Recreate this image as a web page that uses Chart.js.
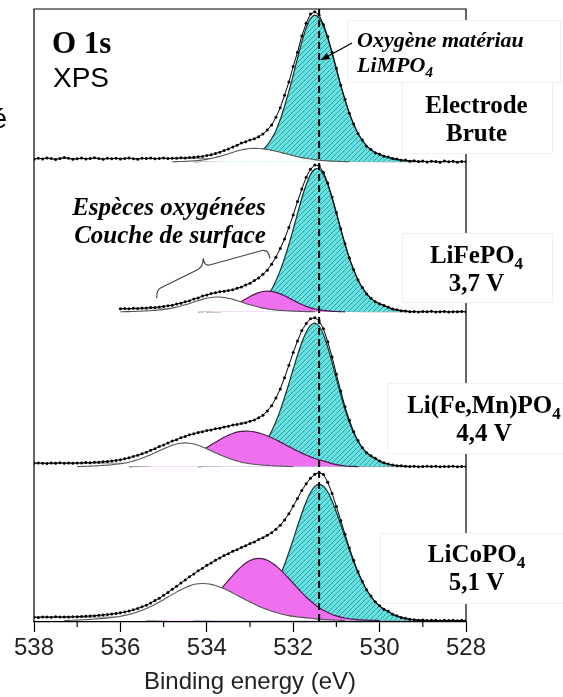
<!DOCTYPE html>
<html lang="fr">
<head>
<meta charset="utf-8">
<title>O 1s XPS</title>
<script src="https://cdn.jsdelivr.net/npm/chart.js@4.4.1/dist/chart.umd.min.js"></script>
<style>
  html, body { margin: 0; background: #fff; }
  canvas { display: block; }
</style>
</head>
<body>
<canvas id="xps" width="563" height="697"></canvas>
<script>
// binding energy grid (eV), one point every 0.1 eV
const energy = [
  538.0, 537.9, 537.8, 537.7, 537.6, 537.5, 537.4, 537.3, 537.2, 537.1,
  537.0, 536.9, 536.8, 536.7, 536.6, 536.5, 536.4, 536.3, 536.2, 536.1,
  536.0, 535.9, 535.8, 535.7, 535.6, 535.5, 535.4, 535.3, 535.2, 535.1,
  535.0, 534.9, 534.8, 534.7, 534.6, 534.5, 534.4, 534.3, 534.2, 534.1,
  534.0, 533.9, 533.8, 533.7, 533.6, 533.5, 533.4, 533.3, 533.2, 533.1,
  533.0, 532.9, 532.8, 532.7, 532.6, 532.5, 532.4, 532.3, 532.2, 532.1,
  532.0, 531.9, 531.8, 531.7, 531.6, 531.5, 531.4, 531.3, 531.2, 531.1,
  531.0, 530.9, 530.8, 530.7, 530.6, 530.5, 530.4, 530.3, 530.2, 530.1,
  530.0, 529.9, 529.8, 529.7, 529.6, 529.5, 529.4, 529.3, 529.2, 529.1,
  529.0, 528.9, 528.8, 528.7, 528.6, 528.5, 528.4, 528.3, 528.2, 528.1,
  528.0
];

// measured spectra (normalised, lattice O peak ~ 100)
const dataBrute = [
  1.6, 2.4, 1.9, 2.6, 2.1, 1.5, 2.2, 2.8, 2.3, 1.7,
  2.0, 2.5, 1.8, 2.2, 2.7, 2.1, 1.6, 2.3, 2.0, 2.4,
  1.9, 2.2, 2.6, 2.0, 1.7, 2.3, 2.1, 2.5, 2.0, 2.2,
  2.6, 2.1, 2.4, 2.3, 2.7, 2.5, 2.9, 3.0, 3.3, 3.6,
  4.2, 4.7, 5.6, 6.4, 7.6, 8.6, 10.0, 11.1, 12.6, 13.5,
  14.7, 15.5, 16.9, 18.7, 21.4, 24.8, 30.0, 36.4, 45.0, 53.8,
  64.3, 74.0, 85.0, 93.5, 99.8, 101.3, 99.1, 92.8, 84.6, 73.9,
  63.2, 51.8, 42.2, 32.7, 25.5, 19.0, 14.7, 10.5, 8.3, 6.0,
  5.1, 3.7, 3.2, 2.1, 1.9, 1.0, 1.1, 0.4, 0.7, 0.1,
  0.5, -0.2, 0.4, 0.1, -0.3, 0.5, 0.0, 0.3, -0.4, 0.2,
  0.1
];
// LiFePO4 is recorded from 536.0 eV only
const dataLFP = [
  2.0, 2.2, 2.0, 2.4, 2.3, 2.5, 2.6, 2.9, 2.9, 3.3,
  3.6, 4.1, 4.4, 5.2, 5.8, 6.8, 7.5, 8.7, 9.4, 10.6,
  11.3, 12.3, 12.9, 13.6, 13.9, 14.4, 14.9, 15.9, 16.7, 18.1,
  19.3, 21.1, 22.9, 25.3, 28.1, 32.2, 36.9, 42.8, 49.2, 57.0,
  65.4, 74.5, 83.0, 90.9, 96.4, 99.2, 98.7, 94.2, 87.1, 77.5,
  67.1, 56.1, 45.9, 36.3, 28.4, 21.5, 16.4, 12.1, 9.2, 6.8,
  5.5, 4.2, 3.1, 1.9, 1.4, 0.7, 0.5, 0.1, 0.2, -0.1,
  0.2, 0.0, 0.3, -0.1, 0.1, 0.2, -0.2, 0.1, 0.0, 0.2,
  0.0
];
const dataLFMP = [
  2.2, 2.5, 2.3, 2.1, 2.4, 2.3, 2.6, 2.2, 2.4, 2.3,
  2.5, 2.4, 2.7, 2.6, 2.9, 3.0, 3.3, 3.5, 3.8, 4.2,
  4.7, 5.3, 6.0, 6.9, 7.6, 8.7, 9.7, 11.0, 12.1, 13.5,
  14.6, 16.0, 17.3, 18.2, 19.5, 20.4, 21.5, 22.2, 23.1, 23.6,
  24.4, 24.8, 25.6, 26.0, 26.8, 27.2, 28.1, 28.4, 29.2, 29.7,
  30.7, 31.5, 33.0, 34.7, 37.6, 41.2, 46.4, 52.4, 60.1, 68.4,
  77.1, 84.9, 91.9, 96.7, 99.9, 100.6, 98.5, 93.1, 84.4, 74.1,
  62.4, 51.1, 40.4, 31.4, 23.5, 17.6, 12.7, 9.4, 7.3, 5.6,
  3.8, 2.6, 1.7, 1.1, 0.6, 0.5, 0.2, 0.1, 0.2, -0.1,
  0.1, 0.2, 0.0, 0.2, -0.1, 0.1, 0.0, 0.2, -0.1, 0.1,
  0.0
];
const dataLCP = [
  2.3, 2.1, 2.4, 2.3, 2.2, 2.5, 2.3, 2.4, 2.4, 2.5,
  2.6, 2.8, 2.9, 3.1, 3.3, 3.5, 3.8, 4.0, 4.4, 4.7,
  5.2, 5.8, 6.4, 7.3, 8.1, 9.3, 10.4, 11.8, 13.5, 15.0,
  17.0, 18.9, 21.1, 23.1, 25.4, 27.4, 29.6, 31.4, 33.6, 35.3,
  37.3, 38.9, 40.8, 42.2, 43.9, 45.2, 46.8, 47.9, 49.4, 50.5,
  52.0, 53.1, 54.7, 55.9, 57.7, 59.3, 61.7, 64.3, 68.0, 72.1,
  77.3, 82.5, 87.9, 92.4, 96.1, 98.9, 100.0, 98.7, 93.4, 85.9,
  77.0, 67.6, 58.3, 49.0, 40.7, 32.9, 26.6, 20.8, 16.5, 12.6,
  9.9, 7.6, 6.2, 4.3, 3.2, 2.0, 1.5, 0.8, 0.6, 0.2,
  0.3, 0.0, 0.2, 0.1, -0.1, 0.2, 0.0, 0.1, -0.1, 0.1,
  0.0
];

// fitted components: [first energy, intensities every 0.1 eV towards lower BE]
// lattice oxygen of LiMPO4
const cyanBrute = [534.3, [
  0, 0.1, 0.2, 0.3, 0.4, 0.6, 0.8, 1.0, 1.3, 1.6,
  2.0, 2.6, 3.1, 3.8, 4.8, 6.1, 8.2, 11.2, 15.5, 21.0,
  28.5, 37.5, 47.5, 58.5, 70.0, 81.0, 90.4, 96.8, 99.0, 97.0,
  91.5, 83.2, 73.2, 62.3, 51.5, 41.6, 32.7, 25.2, 19.1, 14.4,
  10.7, 8.1, 6.2, 4.9, 3.9, 2.9, 2.1, 1.5, 1.0, 0.6,
  0.35, 0.2, 0.1, 0]];
const cyanLFP = [534.0, [
  0, 0.05, 0.1, 0.15, 0.25, 0.4, 0.6, 0.9, 1.3, 1.8,
  2.5, 3.5, 5.0, 7.2, 10.5, 15.0, 21.0, 28.0, 36.2, 45.5,
  55.8, 66.4, 76.7, 85.8, 92.7, 96.5, 96.5, 92.7, 85.8, 76.7,
  66.4, 55.8, 45.5, 36.2, 28.2, 21.5, 16.2, 12.2, 9.1, 6.9,
  5.4, 4.3, 3.0, 2.0, 1.3, 0.8, 0.4, 0.2, 0]];
const cyanLFMP = [534.2, [
  0, 0.1, 0.2, 0.3, 0.5, 0.7, 1.0, 1.3, 1.8, 2.4,
  3.2, 4.2, 5.6, 7.5, 10.0, 13.5, 18.0, 23.9, 30.4, 38.0,
  46.7, 56.1, 65.8, 75.3, 83.9, 90.8, 95.4, 97.0, 95.0, 89.2,
  80.6, 70.3, 59.3, 48.5, 38.6, 30.0, 22.7, 17.0, 12.6, 9.4,
  7.1, 5.4, 3.6, 2.5, 1.6, 1.0, 0.6, 0.3, 0.1, 0]];
const cyanLCP = [534.3, [
  0, 0.1, 0.2, 0.3, 0.5, 0.7, 1.0, 1.3, 1.8, 2.3,
  2.9, 3.7, 4.5, 5.5, 7.0, 8.9, 11.5, 14.8, 19.1, 24.3,
  30.6, 37.9, 46.0, 54.7, 63.7, 72.3, 80.2, 86.5, 90.6, 92.0,
  90.7, 86.8, 80.8, 73.2, 64.9, 56.2, 47.7, 39.6, 32.3, 26.0,
  20.6, 16.2, 12.6, 9.8, 7.7, 6.1, 4.3, 3.0, 2.0, 1.3,
  0.8, 0.4, 0.2, 0.1, 0]];

// surface species
const magentaLFP = [534.2, [
  0, 0.15, 0.3, 0.5, 0.9, 1.4, 2.0, 2.9, 4.1, 5.5,
  7.0, 8.7, 10.3, 11.8, 13.0, 13.7, 14.0, 13.8, 13.1, 12.1,
  10.8, 9.3, 7.8, 6.3, 4.9, 3.7, 2.7, 1.9, 1.3, 0.9,
  0.6, 0.35, 0.2, 0.1, 0]];
const magentaLFMP = [535.8, [
  0, 0.1, 0.2, 0.3, 0.4, 0.6, 0.8, 1.1, 1.5, 2.0,
  2.6, 3.4, 4.3, 5.3, 6.6, 7.9, 9.5, 11.1, 12.9, 14.7,
  16.5, 18.2, 19.8, 21.2, 22.4, 23.3, 23.8, 24.0, 23.9, 23.5,
  22.8, 21.9, 20.8, 19.5, 18.1, 16.6, 15.1, 13.5, 12.0, 10.5,
  9.1, 7.8, 6.6, 5.5, 4.6, 3.8, 3.0, 2.0, 1.3, 0.8,
  0.4, 0.2, 0.1, 0]];
const magentaLCP = [535.4, [
  0, 0.1, 0.2, 0.35, 0.5, 0.8, 1.2, 1.7, 2.3, 3.2,
  4.3, 5.6, 7.3, 9.3, 11.6, 14.2, 17.2, 20.3, 23.7, 27.1,
  30.4, 33.6, 36.4, 38.8, 40.5, 41.6, 42.0, 41.7, 40.7, 39.1,
  37.0, 34.4, 31.5, 28.4, 25.2, 22.0, 18.9, 15.9, 13.3, 10.8,
  8.7, 6.9, 5.4, 4.1, 3.1, 2.3, 1.7, 1.2, 0.9, 0.6,
  0.4, 0.25, 0.15, 0.1, 0]];

const whiteBrute = [534.8, [
  0, 0.1, 0.15, 0.25, 0.4, 0.6, 0.8, 1.2, 1.6, 2.2,
  2.9, 3.6, 4.5, 5.4, 6.3, 7.2, 7.9, 8.5, 8.9, 9.0,
  8.9, 8.7, 8.3, 7.7, 7.1, 6.4, 5.6, 4.9, 4.1, 3.4,
  2.8, 2.3, 1.8, 1.4, 1.0, 0.8, 0.6, 0.4, 0.3, 0.2,
  0.1, 0]];
const whiteLFP = [536.0, [
  0, 0.1, 0.15, 0.25, 0.35, 0.45, 0.6, 0.75, 0.95, 1.2,
  1.6, 2.0, 2.5, 3.2, 3.9, 4.7, 5.6, 6.6, 7.5, 8.4,
  9.1, 9.7, 10.0, 10.0, 9.7, 9.1, 8.4, 7.5, 6.6, 5.6,
  4.7, 3.9, 3.2, 2.5, 2.0, 1.6, 1.2, 0.95, 0.75, 0.6,
  0.45, 0.35, 0.25, 0.15, 0.1, 0]];
const whiteLFMP = [537.0, [
  0, 0.1, 0.2, 0.3, 0.45, 0.6, 0.8, 1.0, 1.25, 1.55,
  1.9, 2.4, 3.0, 3.8, 4.6, 5.6, 6.8, 8.0, 9.3, 10.7,
  12.0, 13.3, 14.4, 15.3, 15.8, 16.0, 15.8, 15.3, 14.4, 13.3,
  12.0, 10.7, 9.3, 8.0, 6.8, 5.6, 4.6, 3.8, 3.0, 2.4,
  1.9, 1.55, 1.25, 1.0, 0.8, 0.6, 0.45, 0.3, 0.2, 0.1,
  0]];
const whiteLCP = [537.3, [
  0, 0.1, 0.2, 0.3, 0.45, 0.6, 0.8, 1.0, 1.2, 1.4,
  1.7, 2.0, 2.4, 2.9, 3.5, 4.1, 4.9, 5.9, 6.9, 8.1,
  9.5, 10.9, 12.5, 14.1, 15.9, 17.5, 19.2, 20.8, 22.2, 23.4,
  24.3, 24.8, 25.0, 24.8, 24.4, 23.6, 22.6, 21.4, 20.1, 18.6,
  17.1, 15.5, 14.0, 12.5, 11.1, 9.7, 8.5, 7.4, 6.3, 5.4,
  4.6, 3.9, 3.3, 2.8, 2.4, 2.1, 1.8, 1.5, 1.2, 0.9,
  0.7, 0.5, 0.35, 0.2, 0.1, 0]];

// Shirley background knots
const shirleyEV = [534, 533, 532.5, 532, 531.5, 531, 530.5, 530];
const shirleyBrute = [2.2, 2.1, 1.9, 1.55, 1.0, 0.45, 0.1, 0];
const shirleyLFP = [2.0, 1.85, 1.7, 1.4, 0.9, 0.4, 0.1, 0];
const shirleyLFMP = [2.3, 2.15, 1.95, 1.6, 1.05, 0.45, 0.1, 0];
const shirleyLCP = [2.3, 2.15, 1.95, 1.6, 1.05, 0.45, 0.1, 0];

const names = [['Electrode', 'Brute'], ['LiFePO_4', '3,7 V'], ['Li(Fe,Mn)PO_4', '4,4 V'], ['LiCoPO_4', '5,1 V']];
const offsets = [310, 208.6, 104, 0];   // vertical shift of each spectrum
const latticeEV = 531.4;                 // lattice O 1s position

const spectra = [
  { data: dataBrute, from: 538.0, cyan: cyanBrute, magenta: null, white: whiteBrute, bg: shirleyBrute },
  { data: dataLFP, from: 536.0, cyan: cyanLFP, magenta: magentaLFP, white: whiteLFP, bg: shirleyLFP },
  { data: dataLFMP, from: 538.0, cyan: cyanLFMP, magenta: magentaLFMP, white: whiteLFMP, bg: shirleyLFMP },
  { data: dataLCP, from: 538.0, cyan: cyanLCP, magenta: magentaLCP, white: whiteLCP, bg: shirleyLCP }
];

// cyan with thin diagonal hatching
function hatchPattern() {
  const c = document.createElement('canvas');
  c.width = c.height = 5;
  const g = c.getContext('2d');
  g.fillStyle = '#66e2e2';
  g.fillRect(0, 0, 5, 5);
  g.strokeStyle = 'rgba(25,110,110,0.65)';
  g.lineWidth = 0.9;
  g.beginPath();
  g.moveTo(-1, 6); g.lineTo(6, -1);
  g.moveTo(-1, 1); g.lineTo(1, -1);
  g.moveTo(4, 6); g.lineTo(6, 4);
  g.stroke();
  return g.createPattern(c, 'repeat');
}
const hatch = hatchPattern();

const datasets = [];
spectra.forEach((s, k) => {
  const off = offsets[k];
  const at = (from, vals) => {
    const i0 = energy.indexOf(from);
    return vals.map((v, i) => ({ x: energy[i0 + i], y: v + off }));
  };
  const bgPts = [{ x: s.from, y: s.bg[0] + off }]
    .concat(shirleyEV.map((e, i) => ({ x: e, y: s.bg[i] + off })), [{ x: 528, y: off }]);
  datasets.push({ data: bgPts, borderColor: '#8c8c8c', borderWidth: 1, tension: 0.3, order: 5 });
  datasets.push({ data: at(s.cyan[0], s.cyan[1]), backgroundColor: hatch, borderColor: '#123636',
    borderWidth: 1.2, fill: { value: off }, tension: 0.25, order: 4 });
  if (s.magenta) {
    datasets.push({ data: at(s.magenta[0], s.magenta[1]), backgroundColor: '#ef70ef', borderColor: '#4c1c4c',
      borderWidth: 1.2, fill: { value: off }, tension: 0.25, order: 3 });
  }
  datasets.push({ data: at(s.white[0], s.white[1]), backgroundColor: '#ffffff', borderColor: '#555555',
    borderWidth: 1.1, fill: { value: off }, tension: 0.25, order: 2 });
  datasets.push({ data: at(s.from, s.data), borderColor: '#000', borderWidth: 1,
    pointRadius: 1.5, pointBackgroundColor: '#000', pointBorderWidth: 0, order: 1 });
});

function richText(ctx, text, x, y, px, style, align) {
  const segs = text.split(/(_\d)/).filter(Boolean).map(t => t[0] === '_' ? [t.slice(1), true] : [t, false]);
  const fontOf = sub => style + ' ' + (sub ? Math.round(px * 0.68) : px) + 'px "Liberation Serif"';
  let w = 0;
  segs.forEach(([t, sub]) => { ctx.font = fontOf(sub); w += ctx.measureText(t).width; });
  let cx = align === 'center' ? x - w / 2 : x;
  ctx.textAlign = 'left';
  segs.forEach(([t, sub]) => {
    ctx.font = fontOf(sub);
    ctx.fillText(t, cx, sub ? y + px * 0.22 : y);
    cx += ctx.measureText(t).width;
  });
}

const decor = {
  id: 'decor',
  afterDatasetsDraw(chart) {
    const { ctx, chartArea: a, scales: { x } } = chart;
    ctx.save();
    ctx.strokeStyle = '#000';
    ctx.lineWidth = 1.2;
    ctx.beginPath();
    ctx.moveTo(a.left, a.bottom); ctx.lineTo(a.left, a.top);
    ctx.lineTo(a.right, a.top); ctx.lineTo(a.right, a.bottom);
    ctx.stroke();
    // minor ticks at odd eV
    for (let e = 529; e < 538; e += 2) {
      const px = x.getPixelForValue(e);
      ctx.beginPath(); ctx.moveTo(px, a.bottom); ctx.lineTo(px, a.bottom + 5); ctx.stroke();
    }
    // lattice oxygen position
    const xm = x.getPixelForValue(latticeEV);
    ctx.setLineDash([7, 4]);
    ctx.lineWidth = 2;
    ctx.beginPath(); ctx.moveTo(xm, a.top); ctx.lineTo(xm, a.bottom); ctx.stroke();
    ctx.setLineDash([]);

    // label boxes
    const boxes = [[347, 20, 213, 62], [402, 82, 150, 71], [402, 233, 150, 69], [387, 383, 176, 70], [380, 533, 183, 70]];
    ctx.lineWidth = 1;
    ctx.strokeStyle = '#f1f1f1';
    ctx.fillStyle = '#fff';
    boxes.forEach(([bx, by, bw, bh]) => { ctx.fillRect(bx, by, bw, bh); ctx.strokeRect(bx + 0.5, by + 0.5, bw, bh); });

    ctx.fillStyle = '#000';
    ctx.textBaseline = 'alphabetic';
    const anchors = [[476.5, 113], [476.5, 263], [484, 413], [476.5, 562]];
    names.forEach((lines, k) => {
      richText(ctx, lines[0], anchors[k][0], anchors[k][1], 25, 'bold', 'center');
      richText(ctx, lines[1], anchors[k][0], anchors[k][1] + 28, 25, 'bold', 'center');
    });
    richText(ctx, 'Oxygène matériau', 357, 47, 22, 'italic bold', 'left');
    richText(ctx, 'LiMPO_4', 357, 72, 22, 'italic bold', 'left');
    richText(ctx, 'Espèces oxygénées', 169, 215, 25, 'italic bold', 'center');
    richText(ctx, 'Couche de surface', 170, 243, 25, 'italic bold', 'center');
    richText(ctx, 'O 1s', 52, 53, 31, 'bold', 'left');
    ctx.font = '28px "Liberation Sans"';
    ctx.textAlign = 'left';
    ctx.fillText('XPS', 53, 87);
    ctx.textAlign = 'right';
    ctx.fillText('é', 7, 128);

    // arrow to the lattice line
    const tipX = xm + 2, tipY = 60;
    ctx.strokeStyle = '#000';
    ctx.lineWidth = 1.3;
    ctx.beginPath(); ctx.moveTo(352, 43); ctx.lineTo(tipX, tipY); ctx.stroke();
    const ang = Math.atan2(tipY - 43, tipX - 352);
    ctx.beginPath();
    ctx.moveTo(tipX, tipY);
    ctx.lineTo(tipX - 9 * Math.cos(ang - 0.4), tipY - 9 * Math.sin(ang - 0.4));
    ctx.lineTo(tipX - 9 * Math.cos(ang + 0.4), tipY - 9 * Math.sin(ang + 0.4));
    ctx.closePath();
    ctx.fill();

    // brace under the surface-layer label
    ctx.strokeStyle = '#444';
    ctx.lineWidth = 1.2;
    ctx.beginPath();
    ctx.moveTo(156.7, 298.3);
    ctx.quadraticCurveTo(156.5, 290, 160.5, 288);
    ctx.lineTo(198, 269.5);
    ctx.quadraticCurveTo(203, 267, 203.3, 258.3);
    ctx.quadraticCurveTo(204, 266, 209.5, 265);
    ctx.lineTo(262, 250.5);
    ctx.quadraticCurveTo(268.5, 249.5, 270, 258.3);
    ctx.stroke();
    ctx.restore();
  }
};

new Chart(document.getElementById('xps'), {
  type: 'line',
  data: { datasets },
  options: {
    responsive: false,
    animation: false,
    devicePixelRatio: 1,
    events: [],
    layout: { padding: { left: 34, right: 97, top: 9, bottom: 0 } },
    elements: { point: { radius: 0 }, line: { tension: 0 } },
    plugins: { legend: { display: false }, tooltip: { enabled: false } },
    scales: {
      x: {
        type: 'linear', reverse: true, min: 528, max: 538,
        afterFit: s => { s.height = 75; },
        border: { color: '#000', width: 1.2 },
        grid: { drawOnChartArea: false, tickLength: 10, tickColor: '#000', tickWidth: 1.2 },
        ticks: { stepSize: 2, padding: 2, color: '#222', maxRotation: 0, autoSkip: false,
          font: { family: 'Liberation Sans', size: 24 } },
        title: { display: true, text: 'Binding energy (eV)', color: '#222', padding: 0,
          font: { family: 'Liberation Sans', size: 24 } }
      },
      y: { display: false, min: -1, max: 413.2 }
    }
  },
  plugins: [decor]
});
</script>
</body>
</html>
